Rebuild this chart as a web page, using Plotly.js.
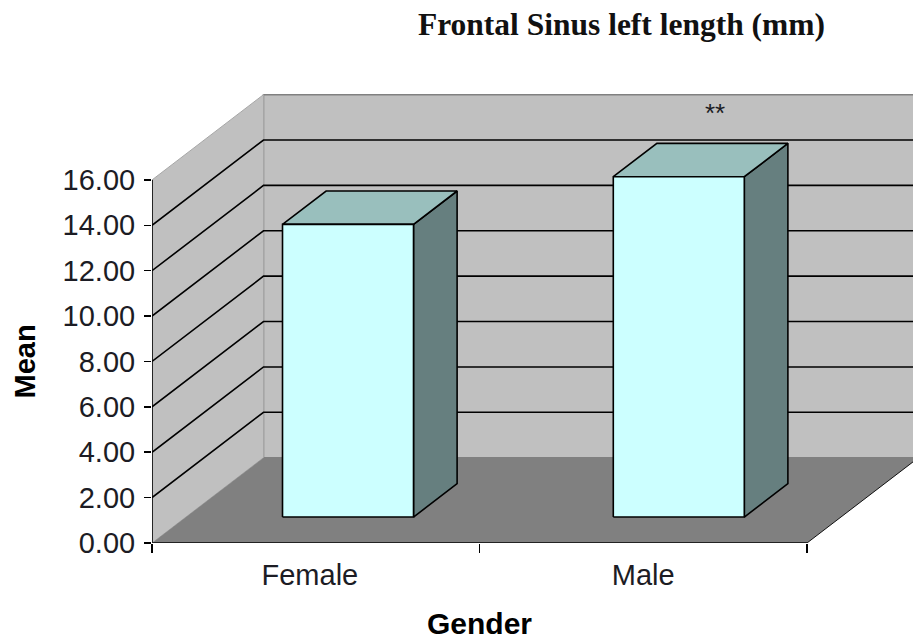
<!DOCTYPE html>
<html>
<head>
<meta charset="utf-8">
<script src="https://cdn.plot.ly/plotly-3.0.1.min.js"></script>
<style>html,body{margin:0;padding:0;background:#fff;overflow:hidden}</style>
</head>
<body>
<div id="chart" style="width:913px;height:641px"></div>
<script>
const genders = ['Female', 'Male'];
const means = [12.9, 15.0];
const barCenters = [0.495, 1.505];
const labelPositions = [0.482, 1.5];
const yTicks = [0, 2, 4, 6, 8, 10, 12, 14, 16];
const yTickLabels = ['0.00', '2.00', '4.00', '6.00', '8.00', '10.00', '12.00', '14.00', '16.00'];
const significance = ['', '**'];

// oblique projection of the 3-D box onto the flat axes
const depthX = 0.3405, depthY = 3.76;
const barDepthFront = 0.304, barDepthBack = 0.695, barWidth = 0.4;
const px = (x, v, d) => [x + d * depthX, v + d * depthY];

function poly(points, fill, line, width) {
  const p = points.map(q => px(q[0], q[1], q[2]));
  return {
    type: 'scatter', mode: 'lines', x: p.map(a => a[0]), y: p.map(a => a[1]),
    fill: fill ? 'toself' : 'none', fillcolor: fill || undefined,
    line: {color: line, width: width},
    hoverinfo: 'skip', showlegend: false, cliponaxis: false
  };
}

const traces = [];
const yTop = yTicks[yTicks.length - 1];
const xMax = genders.length;
// back wall, side wall, floor
const backWall = poly([[0,0,1],[0,yTop,1],[xMax,yTop,1],[xMax,0,1],[0,0,1]], '#c0c0c0', '#808080', 1.5);
backWall.cliponaxis = true;
traces.push(backWall);
traces.push(poly([[0,0,0],[0,yTop,0],[0,yTop,1],[0,0,1],[0,0,0]], '#c0c0c0', '#a6a6a6', 1));
const floorPoly = poly([[0,0,0],[xMax,0,0],[xMax,0,1],[0,0,1],[0,0,0]], '#808080', 'rgba(0,0,0,0)', 0);
floorPoly.cliponaxis = true;
traces.push(floorPoly);
const floorEdge = poly([[xMax,0,0],[xMax,0,1]], null, '#111111', 1);
floorEdge.cliponaxis = true;
traces.push(floorEdge);
// gridlines
yTicks.slice(1, -1).forEach(v => {
  const g = poly([[0,v,0],[0,v,1],[xMax,v,1]], null, '#000000', 1.6);
  g.cliponaxis = true;
  traces.push(g);
});
// bars
means.forEach((m, i) => {
  const l = barCenters[i] - barWidth / 2, r = barCenters[i] + barWidth / 2;
  const f = barDepthFront, b = barDepthBack;
  traces.push(poly([[r,0,f],[r,m,f],[r,m,b],[r,0,b],[r,0,f]], '#667f7f', '#000000', 1.6));
  traces.push(poly([[l,m,f],[r,m,f],[r,m,b],[l,m,b],[l,m,f]], '#99bfbd', '#000000', 1.6));
  traces.push(poly([[l,0,f],[r,0,f],[r,m,f],[l,m,f],[l,0,f]], '#ccffff', '#000000', 1.6));
});
// axis lines
traces.push(poly([[0,0,0],[0,yTop,0]], null, '#000000', 1.6));
traces.push(poly([[0,0,0],[xMax,0,0]], null, '#222222', 1.8));

const textColor = '#1c1c24';
const layout = {
  width: 913, height: 641,
  margin: {l: 152, r: 0, t: 0, b: 98, pad: 0},
  paper_bgcolor: '#ffffff', plot_bgcolor: '#ffffff',
  showlegend: false,
  font: {family: '"Liberation Sans", Arial, sans-serif', color: textColor, size: 29},
  title: {
    text: '<b>Frontal Sinus left length (mm)</b>',
    x: 621.5 / 913, xanchor: 'center', y: 1 - 24 / 641, yanchor: 'middle',
    font: {family: '"Liberation Serif", "Times New Roman", serif', size: 31.5, color: '#111111'}
  },
  xaxis: {
    range: [0, 761 / 327.5], showgrid: false, zeroline: false, showline: false,
    tickmode: 'array', tickvals: labelPositions, ticktext: genders,
    ticks: '', ticklabelstandoff: 12,
    tickfont: {size: 29},
    minor: {tickmode: 'array', tickvals: [0, 1, 2], ticks: 'outside', ticklen: 9, tickwidth: 1.5, tickcolor: '#000000', showgrid: false},
    fixedrange: true
  },
  yaxis: {
    range: [0, 543 / 22.69], showgrid: false, zeroline: false, showline: false,
    tickmode: 'array', tickvals: yTicks, ticktext: yTickLabels,
    ticks: 'outside', ticklen: 7, tickwidth: 1.5, tickcolor: '#000000',
    tickfont: {size: 29}, ticklabelstandoff: 3,
    fixedrange: true
  },
  annotations: significance.map((s, i) => ({
    text: s, x: i + 0.72, y: 18.95, xref: 'x', yref: 'y', showarrow: false,
    xanchor: 'center', yanchor: 'middle', font: {size: 26, color: textColor}
  })).filter(a => a.text).concat([
    {text: '<b>Gender</b>', x: (479.5 - 152) / 761, y: 1 - 623 / 543, xref: 'paper', yref: 'paper', showarrow: false,
     xanchor: 'center', yanchor: 'middle', font: {size: 30, color: '#000000'}},
    {text: '<b>Mean</b>', x: (24 - 152) / 761, y: 1 - 361.5 / 543, xref: 'paper', yref: 'paper', showarrow: false,
     textangle: -90, xanchor: 'center', yanchor: 'middle', font: {size: 29, color: '#000000'}}
  ])
};
Plotly.newPlot('chart', traces, layout, {displayModeBar: false, staticPlot: true});
</script>
</body>
</html>
